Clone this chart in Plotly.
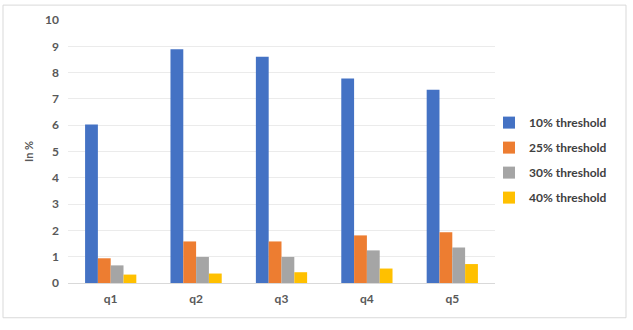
import plotly.graph_objects as go

categories = ["q1", "q2", "q3", "q4", "q5"]
series_names = ["10% threshold", "25% threshold", "30% threshold", "40% threshold"]
t10 = [6.03, 8.89, 8.60, 7.78, 7.35]
t25 = [0.94, 1.58, 1.58, 1.81, 1.93]
t30 = [0.67, 0.99, 0.99, 1.24, 1.35]
t40 = [0.32, 0.36, 0.41, 0.55, 0.72]
y_ticks = [0, 1, 2, 3, 4, 5, 6, 7, 8, 9, 10]

colors = ["#4472C4", "#ED7D31", "#A5A5A5", "#FFC000"]
values = [t10, t25, t30, t40]

W, H = 633, 330
ml, mr, mt, mb = 68, 138, 18, 47

fig = go.Figure()
for i, (name, vals) in enumerate(zip(series_names, values)):
    fig.add_trace(go.Bar(x=categories, y=vals, name=name, marker_color=colors[i],
                         marker_line_width=0, legendgroup=f"g{i}"))

txt = "#595959"
fig.update_layout(
    width=W, height=H,
    margin=dict(l=ml, r=mr, t=mt, b=mb),
    paper_bgcolor="white", plot_bgcolor="white",
    font=dict(family="Lato, Open Sans, sans-serif", color=txt, size=12),
    barmode="group", bargap=0.4, bargroupgap=0,
    showlegend=True,
    legend=dict(x=0.986, y=0.665, xanchor="left", yanchor="top",
                font=dict(size=12, color="#404040", family="Lato, sans-serif", weight="bold"),
                traceorder="grouped", tracegroupgap=6,
                itemwidth=30, bgcolor="rgba(0,0,0,0)"),
    xaxis=dict(showgrid=False, showline=True, linecolor="#D9D9D9", linewidth=1,
               ticks="", tickfont=dict(size=12, color=txt, family="Lato, sans-serif", weight="bold"),
               ticklabelstandoff=5),
    yaxis=dict(range=[0, 10], tickvals=y_ticks, showgrid=True, gridcolor="#EBEBEB",
               gridwidth=1, zeroline=False, showline=False, ticks="",
               tickfont=dict(size=12, color=txt, family="Lato, sans-serif", weight="bold"),
               ticklabelstandoff=8,
               title=dict(text="In %", font=dict(size=11, color=txt, weight="bold"), standoff=9)),
)

pw = W - ml - mr
ph = H - mt - mb
def px(x):
    return (x - ml) / pw
def py(y):
    return (H - mb - y) / ph

fig.add_shape(type="rect", xref="paper", yref="paper",
              x0=px(3), x1=px(626), y0=py(318), y1=py(3),
              line=dict(color="#D9D9D9", width=1), fillcolor="rgba(0,0,0,0)", layer="below")

fig.write_html("out.html", config={"displayModeBar": False},
               post_script="document.body.style.margin='0px';document.body.style.padding='0px';")
